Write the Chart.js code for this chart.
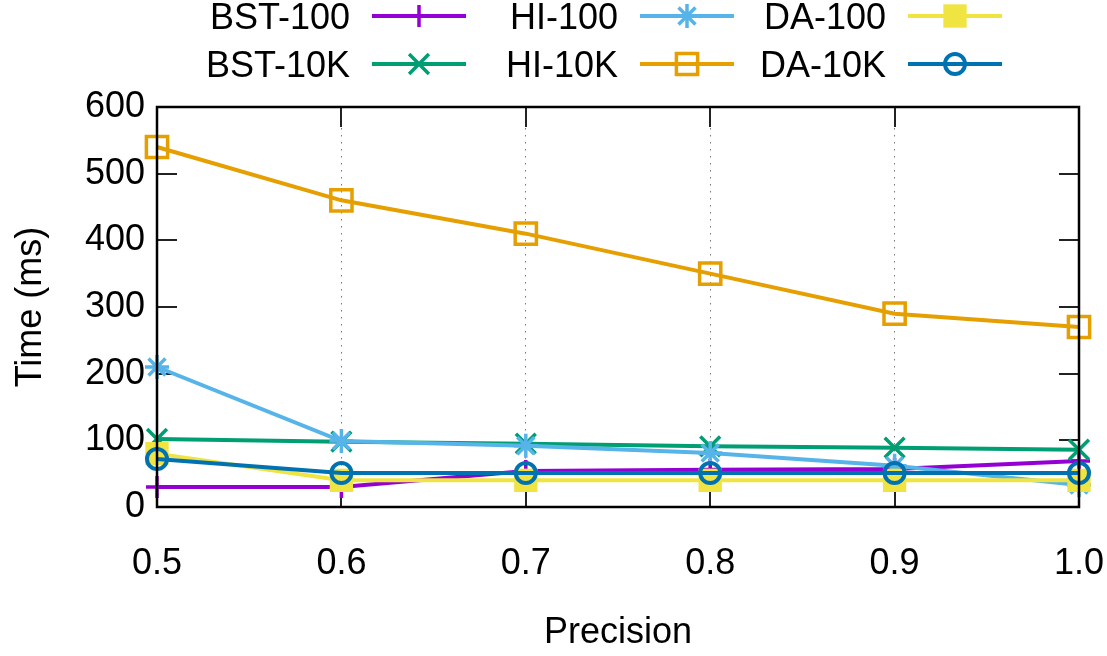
<!DOCTYPE html>
<html><head><meta charset="utf-8">
<script src="https://cdn.jsdelivr.net/npm/chart.js@4/dist/chart.umd.min.js"></script>
<style>html,body{margin:0;padding:0;background:#fff}#wrap{width:1107px;height:656px}</style>
</head><body><div id="wrap"><canvas id="c" width="1107" height="656"></canvas></div>
<script>
// ---- data ----
const precision = [0.5, 0.6, 0.7, 0.8, 0.9, 1.0];
const xTickValues = [0.5, 0.6, 0.7, 0.8, 0.9, 1.0];
const yTickValues = [0, 100, 200, 300, 400, 500, 600];
const seriesNames = ["BST-100", "BST-10K", "HI-100", "HI-10K", "DA-100", "DA-10K"];
const bst100 = [30, 30, 54, 56, 57, 69];
const bst10k = [102, 98, 95, 91, 89, 86];
const hi100  = [210, 99, 92, 81, 62, 33];
const hi10k  = [540, 460, 410, 350, 290, 270];
const da100  = [80, 40, 40, 40, 40, 40];
const da10k  = [72, 51, 51, 51, 51, 51];
const xTitle = "Precision";
const yTitle = "Time (ms)";

// ---- styles ----
const FONT = '"Liberation Sans", Arial, Helvetica, sans-serif';
const FS = 36;
const styles = [
  {color:'#9400d3', pointStyle:'cross',    radius:11, bw:3.5, fill:'rgba(0,0,0,0)'},
  {color:'#009e73', pointStyle:'crossRot', radius:14, bw:3.5, fill:'rgba(0,0,0,0)'},
  {color:'#56b4e9', pointStyle:'star',     radius:12, bw:3.5, fill:'rgba(0,0,0,0)'},
  {color:'#e69f00', pointStyle:'rect',     radius:15, bw:3.5, fill:'rgba(0,0,0,0)'},
  {color:'#f0e442', pointStyle:'rect',     radius:16.5, bw:0, fill:'#f0e442'},
  {color:'#0072b2', pointStyle:'circle',   radius:10, bw:4,   fill:'rgba(0,0,0,0)'}
];
const seriesValues = [bst100, bst10k, hi100, hi10k, da100, da10k];

const datasets = seriesNames.map((name, i) => ({
  label: name,
  data: precision.map((p, j) => ({x: p, y: seriesValues[i][j]})),
  borderColor: styles[i].color,
  backgroundColor: styles[i].color,
  borderWidth: 4,
  pointStyle: styles[i].pointStyle,
  pointRadius: styles[i].radius,
  pointBorderWidth: styles[i].bw,
  pointBorderColor: styles[i].color,
  pointBackgroundColor: styles[i].fill,
  tension: 0,
  clip: false,
  order: seriesNames.length - i
}));

// legend layout (gnuplot-like key: text right-aligned, sample to its right)
const legendCols = [
  {textRight: 350, x0: 372, x1: 466},
  {textRight: 618, x0: 640, x1: 734},
  {textRight: 886, x0: 908, x1: 1002}
];
const legendRows = [16, 64];

const framePlugin = {
  id: 'gnuframe',
  beforeDatasetsDraw(chart) {
    const {ctx, chartArea: a, scales: {x, y}} = chart;
    ctx.save();
    ctx.strokeStyle = '#222';
    ctx.lineWidth = 2;
    ctx.beginPath();
    yTickValues.slice(1, -1).forEach(v => {
      const py = Math.round(y.getPixelForValue(v));
      ctx.moveTo(a.left, py); ctx.lineTo(a.left + 20, py);
      ctx.moveTo(a.right, py); ctx.lineTo(a.right - 20, py);
    });
    xTickValues.slice(1, -1).forEach(v => {
      const px = Math.round(x.getPixelForValue(v));
      ctx.moveTo(px, a.bottom); ctx.lineTo(px, a.bottom - 20);
      ctx.moveTo(px, a.top); ctx.lineTo(px, a.top + 20);
    });
    ctx.stroke();
    ctx.restore();
  },
  afterDatasetsDraw(chart) {
    const {ctx, chartArea: a} = chart;
    ctx.save();
    ctx.strokeStyle = '#000';
    ctx.lineWidth = 2.5;
    ctx.strokeRect(a.left, a.top, a.right - a.left, a.bottom - a.top);
    ctx.restore();
  },
  afterDraw(chart) {
    const ctx = chart.ctx;
    ctx.save();
    ctx.font = FS + 'px ' + FONT;
    ctx.textAlign = 'right';
    ctx.textBaseline = 'middle';
    seriesNames.forEach((name, i) => {
      const col = legendCols[Math.floor(i / 2)];
      const yy = legendRows[i % 2];
      const st = styles[i];
      ctx.fillStyle = '#000';
      ctx.fillText(name, col.textRight, yy + 3);
      ctx.strokeStyle = st.color;
      ctx.lineWidth = 4;
      ctx.beginPath(); ctx.moveTo(col.x0, yy); ctx.lineTo(col.x1, yy); ctx.stroke();
      const mx = (col.x0 + col.x1) / 2;
      ctx.strokeStyle = st.color;
      ctx.fillStyle = st.fill;
      ctx.lineWidth = st.bw;
      if (Chart.helpers && Chart.helpers.drawPoint) {
        Chart.helpers.drawPoint(ctx, {pointStyle: st.pointStyle, radius: st.radius, borderWidth: st.bw, rotation: 0}, mx, yy);
      }
    });
    ctx.restore();
  }
};

Chart.defaults.font.family = FONT;
Chart.defaults.font.size = FS;
Chart.defaults.color = '#000';

new Chart(document.getElementById('c'), {
  type: 'line',
  data: {datasets},
  options: {
    responsive: false,
    animation: false,
    devicePixelRatio: 1,
    layout: {padding: {top: 107, right: 28, bottom: 0, left: 0}},
    plugins: {legend: {display: false}, tooltip: {enabled: false}},
    scales: {
      x: {
        type: 'linear', min: 0.5, max: 1.0,
        afterBuildTicks: s => { s.ticks = xTickValues.map(v => ({value: v})); },
        afterFit: s => { s.height = 149; s.paddingLeft = 0; s.paddingRight = 0; },
        ticks: {callback: v => Number(v).toFixed(1), padding: 35, maxRotation: 0, autoSkip: false, font: {size: FS}},
        grid: {
          drawTicks: false,
          color: ctx => (ctx.tick && (ctx.tick.value <= 0.5001 || ctx.tick.value >= 0.9999)) ? 'rgba(0,0,0,0)' : '#777',
          lineWidth: 1
        },
        border: {display: false, dash: [1.5, 5.5]},
        title: {display: true, text: xTitle, font: {size: FS}, padding: {top: 0, bottom: 1}}
      },
      y: {
        type: 'linear', min: 0, max: 600,
        afterBuildTicks: s => { s.ticks = yTickValues.map(v => ({value: v})); },
        afterFit: s => { s.width = 157; s.paddingTop = 0; s.paddingBottom = 0; },
        ticks: {padding: 12, font: {size: FS}},
        grid: {display: false, drawTicks: false},
        border: {display: false},
        title: {display: true, text: yTitle, font: {size: FS}, padding: {top: 9, bottom: 0}}
      }
    }
  },
  plugins: [framePlugin]
});
</script>
</body></html>
